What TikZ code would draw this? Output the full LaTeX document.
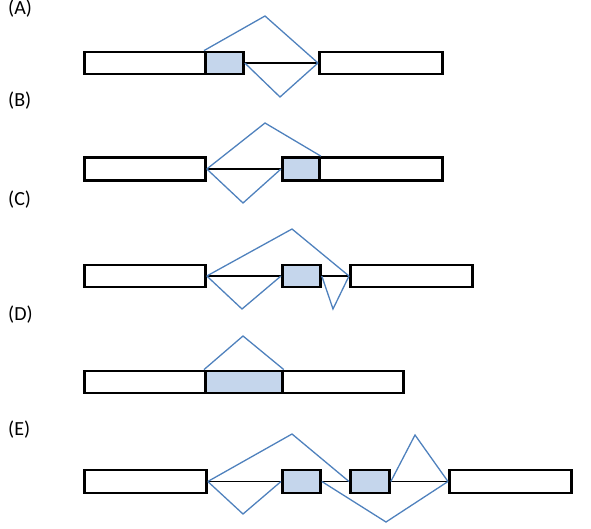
\documentclass[tikz,border=0pt]{standalone}
\usepackage{fontspec}
\setmainfont{Carlito}
\definecolor{splice}{RGB}{79,129,189}
\definecolor{exfill}{RGB}{197,214,236}
\begin{document}
\begin{tikzpicture}[x=1pt,y=-1pt,
  exon/.style={draw=black, line width=2.8pt, fill=white, rectangle, inner sep=0pt, anchor=west},
  altexon/.style={exon, fill=exfill},
  sj/.style={draw=splice, line width=1.3pt, line join=miter},
  intron/.style={draw=black, line width=1.6pt},
  lab/.style={anchor=west, inner sep=0pt, font=\fontsize{20}{22}\selectfont}]
\useasboundingbox (0,0) rectangle (591,529);
% labels
\node[lab] (la) at (8,9) {(A)};
\node[lab] (lb) at (8,101) {(B)};
\node[lab] (lc) at (8,200) {(C)};
\node[lab] (ld) at (8,315) {(D)};
\node[lab] (le) at (8,430) {(E)};
% ---------- A
\coordinate (apk) at (265,16);
\coordinate (atr) at (280,97);
\node[exon, minimum width=121, minimum height=22] (aL) at (83,63) {};
\node[exon, minimum width=123, minimum height=22] (aR) at (318,63) {};
\node[altexon, minimum width=38, minimum height=22] (aS) at (204,63) {};
\draw[intron] (aS.east) -- (aR.west);
\draw[sj] (aS.north west) -- (apk) -- (aR.west);
\draw[sj] (aS.east) -- (atr) -- (aR.west);
% ---------- B
\coordinate (bpk) at (265,123);
\coordinate (btr) at (243,203);
\node[exon, minimum width=121, minimum height=23] (bL) at (83,169) {};
\node[exon, minimum width=123, minimum height=23] (bR) at (318,169) {};
\node[altexon, minimum width=37, minimum height=23] (bS) at (281,169) {};
\draw[intron] (bL.east) -- (bS.west);
\draw[sj] (bL.east) -- (bpk) -- (bS.north east);
\draw[sj] (bL.east) -- (btr) -- (bS.west);
% ---------- C
\coordinate (cpk) at (292,229);
\coordinate (ctr1) at (242,309);
\coordinate (ctr2) at (333,309);
\node[exon, minimum width=121, minimum height=22] (cL) at (83,276) {};
\node[exon, minimum width=122, minimum height=22] (cR) at (349,276) {};
\node[altexon, minimum width=38, minimum height=22] (cS) at (281,276) {};
\draw[intron] (cL.east) -- (cS.west);
\draw[intron] (cS.east) -- (cR.west);
\draw[sj] (cL.east) -- (cpk) -- (cR.west);
\draw[sj] (cL.east) -- (ctr1) -- (cS.west);
\draw[sj] (cS.east) -- (ctr2) -- (cR.west);
% ---------- D
\coordinate (dpk) at (243,336);
\node[exon, minimum width=121, minimum height=22] (dL) at (83,382) {};
\node[exon, minimum width=121, minimum height=22] (dR) at (281,382) {};
\node[altexon, minimum width=77, minimum height=22] (dS) at (204,382) {};
\draw[sj] (dS.north west) -- (dpk) -- (dS.north east);
% ---------- E
\coordinate (epk1) at (292,434);
\coordinate (epk2) at (415,435);
\coordinate (etr1) at (243,514);
\coordinate (etr2) at (386,522);
\node[exon, minimum width=122, minimum height=23] (eL) at (83,481.5) {};
\node[exon, minimum width=122, minimum height=23] (eR) at (448,481.5) {};
\node[altexon, minimum width=38, minimum height=23] (eS1) at (281,481.5) {};
\node[altexon, minimum width=39, minimum height=23] (eS2) at (349,481.5) {};
\draw[intron] (eL.east) -- (eS1.west);
\draw[intron] (eS1.east) -- (eS2.west);
\draw[intron] (eS2.east) -- (eR.west);
\draw[sj] (eL.east) -- (epk1) -- (eS2.west);
\draw[sj] (eL.east) -- (etr1) -- (eS1.west);
\draw[sj] (eS1.east) -- (etr2) -- (eR.west);
\draw[sj] (eS2.east) -- (epk2) -- (eR.west);
\end{tikzpicture}
\end{document}
